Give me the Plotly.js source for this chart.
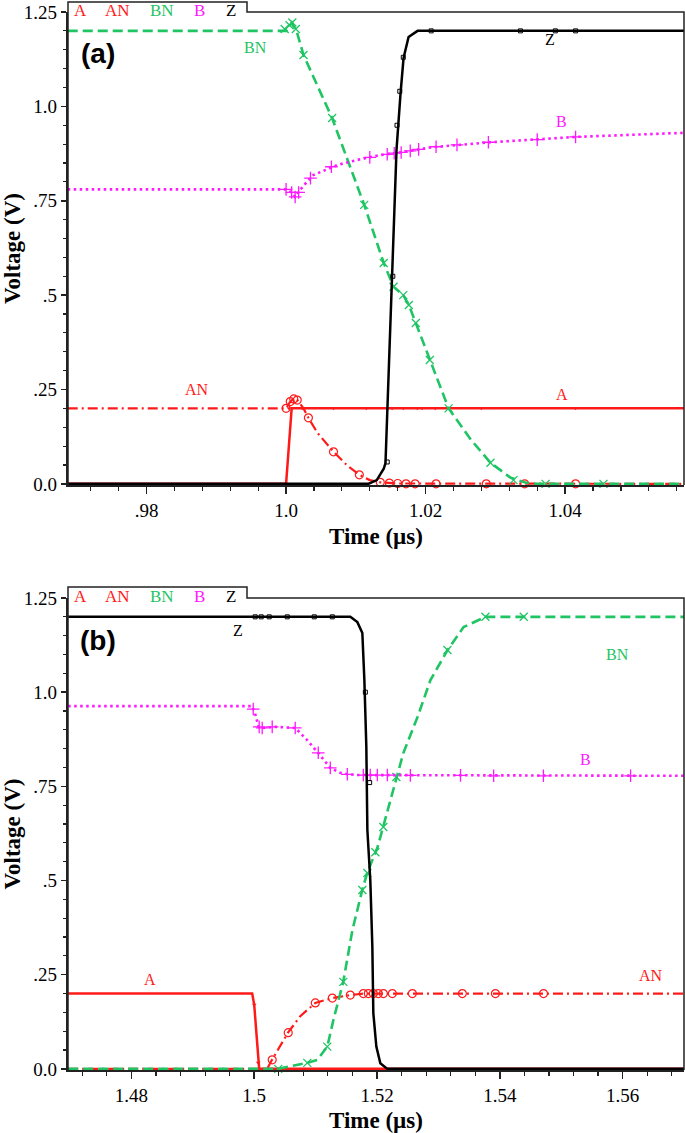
<!DOCTYPE html>
<html>
<head>
<meta charset="utf-8">
<script src="https://cdn.plot.ly/plotly-3.0.1.min.js"></script>
<style>html,body{margin:0;padding:0;background:#fff}</style>
</head>
<body>
<div id="chart" style="width:685px;height:1133px"></div>
<script>
// ---------- Panel (a) data ----------
const A_a_x = [0.9687, 1.0, 1.0008, 1.0571];
const A_a_y = [0, 0, 0.2, 0.2];
const A_a_mx = [1.0004, 1.0023, 1.0068, 1.0115, 1.0152, 1.0168, 1.0188, 1.0195, 1.0214, 1.028, 1.0415];
const A_a_my = [0.2, 0.2, 0.2, 0.2, 0.2, 0.2, 0.2, 0.2, 0.2, 0.2, 0.2];

const AN_a_x = [0.9687, 1.0, 1.0005, 1.001, 1.0016, 1.0025, 1.0032, 1.0045, 1.0068, 1.0088, 1.0105, 1.012, 1.0135, 1.016, 1.0571];
const AN_a_y = [0.2, 0.2, 0.215, 0.225, 0.222, 0.2, 0.175, 0.135, 0.085, 0.048, 0.024, 0.01, 0.004, 0.001, 0];
const AN_a_mx = [1.0, 1.0006, 1.0011, 1.0016, 1.0032, 1.0068, 1.0105, 1.0135, 1.0148, 1.016, 1.0172, 1.0185, 1.0215, 1.0287, 1.0342, 1.0415];
const AN_a_my = [0.2, 0.218, 0.225, 0.222, 0.175, 0.085, 0.024, 0.004, 0.002, 0.001, 0, 0, 0, 0, 0, 0];

const BN_a_x = [0.9687, 1.0, 1.0008, 1.0015, 1.0025, 1.0066, 1.0112, 1.014, 1.0154, 1.0168, 1.0176, 1.0186, 1.0206, 1.0233, 1.0265, 1.0293, 1.0322, 1.0344, 1.036, 1.0571];
const BN_a_y = [1.2, 1.2, 1.222, 1.2, 1.136, 0.969, 0.739, 0.585, 0.522, 0.5, 0.474, 0.426, 0.328, 0.2, 0.117, 0.056, 0.016, 0.003, 0, 0];
const BN_a_mx = [0.9998, 1.0005, 1.0009, 1.0014, 1.0025, 1.0066, 1.0112, 1.014, 1.0154, 1.0168, 1.0176, 1.0186, 1.0206, 1.0233, 1.0293, 1.0326, 1.0372, 1.0455];
const BN_a_my = [1.205, 1.215, 1.222, 1.205, 1.136, 0.969, 0.739, 0.585, 0.522, 0.5, 0.474, 0.426, 0.328, 0.2, 0.056, 0.01, 0, 0];

const B_a_x = [0.9687, 1.0, 1.0008, 1.0013, 1.0025, 1.0039, 1.0074, 1.0102, 1.0135, 1.0168, 1.021, 1.0293, 1.0414, 1.0571];
const B_a_y = [0.78, 0.78, 0.772, 0.76, 0.79, 0.818, 0.845, 0.858, 0.871, 0.879, 0.892, 0.905, 0.919, 0.93];
const B_a_mx = [1.0, 1.0008, 1.0013, 1.0018, 1.0035, 1.0065, 1.012, 1.0145, 1.0155, 1.0165, 1.0178, 1.019, 1.0215, 1.0245, 1.029, 1.036, 1.0415];
const B_a_my = [0.78, 0.772, 0.76, 0.772, 0.81, 0.84, 0.865, 0.873, 0.876, 0.878, 0.882, 0.886, 0.893, 0.898, 0.905, 0.912, 0.919];

const Z_a_x = [0.9687, 1.0118, 1.013, 1.014, 1.01425, 1.01454, 1.01526, 1.01583, 1.01641, 1.01684, 1.01756, 1.01885, 1.0571];
const Z_a_y = [0, 0, 0.01, 0.04, 0.055, 0.2, 0.548, 0.885, 1.035, 1.128, 1.184, 1.2, 1.2];
const Z_a_mx = [1.0145, 1.0153, 1.0159, 1.0163, 1.0168, 1.0208, 1.0336, 1.0386, 1.0415];
const Z_a_my = [0.058, 0.55, 0.95, 1.04, 1.13, 1.2, 1.2, 1.2, 1.2];

// ---------- Panel (b) data ----------
const A_b_x = [1.4697, 1.49967, 1.5, 1.50065, 1.50081, 1.57];
const A_b_y = [0.2, 0.2, 0.17, 0.016, 0, 0];
const A_b_mx = [1.5, 1.50065];
const A_b_my = [0.17, 0.016];

const AN_b_x = [1.4697, 1.5021, 1.5029, 1.5055, 1.5075, 1.50995, 1.51272, 1.51565, 1.518, 1.57];
const AN_b_y = [0, 0, 0.024, 0.096, 0.14, 0.175, 0.188, 0.196, 0.2, 0.2];
const AN_b_mx = [1.50293, 1.50554, 1.50995, 1.51272, 1.51565, 1.51777, 1.51858, 1.5194, 1.52021, 1.52103, 1.5225, 1.52576, 1.5339, 1.53929, 1.54712];
const AN_b_my = [0.024, 0.096, 0.175, 0.188, 0.196, 0.2, 0.2, 0.2, 0.2, 0.2, 0.2, 0.2, 0.2, 0.2, 0.2];

const BN_b_x = [1.4697, 1.5039, 1.5086, 1.5103, 1.5119, 1.5129, 1.5145, 1.516, 1.5176, 1.5184, 1.5201, 1.521, 1.523, 1.5243, 1.5266, 1.5287, 1.5315, 1.5341, 1.5377, 1.57];
const BN_b_y = [0, 0, 0.016, 0.024, 0.059, 0.13, 0.231, 0.369, 0.475, 0.52, 0.589, 0.642, 0.767, 0.839, 0.934, 1.032, 1.112, 1.173, 1.2, 1.2];
const BN_b_mx = [1.50391, 1.50864, 1.5119, 1.51451, 1.51761, 1.51843, 1.51973, 1.52103, 1.52315, 1.53147, 1.53766, 1.5439];
const BN_b_my = [0, 0.016, 0.059, 0.231, 0.475, 0.52, 0.575, 0.642, 0.775, 1.112, 1.2, 1.2];

const B_b_x = [1.4697, 1.49967, 1.5002, 1.5007, 1.5013, 1.5034, 1.5067, 1.5085, 1.5104, 1.5124, 1.514, 1.5153, 1.517, 1.57];
const B_b_y = [0.963, 0.963, 0.94, 0.908, 0.905, 0.908, 0.905, 0.875, 0.839, 0.799, 0.786, 0.782, 0.78, 0.778];
const B_b_mx = [1.49984, 1.50081, 1.5013, 1.50293, 1.50668, 1.51043, 1.51239, 1.51516, 1.51777, 1.5189, 1.52005, 1.52168, 1.52543, 1.5336, 1.539, 1.5471, 1.5613];
const B_b_my = [0.955, 0.908, 0.905, 0.908, 0.905, 0.839, 0.799, 0.782, 0.78, 0.78, 0.78, 0.78, 0.779, 0.779, 0.778, 0.778, 0.778];

const Z_b_x = [1.4697, 1.51565, 1.5168, 1.51761, 1.51794, 1.51826, 1.51843, 1.51891, 1.51924, 1.5194, 1.51989, 1.52054, 1.52168, 1.57];
const Z_b_y = [1.2, 1.2, 1.186, 1.157, 1.032, 0.855, 0.634, 0.5, 0.324, 0.148, 0.059, 0.015, 0, 0];
const Z_b_mx = [1.50016, 1.50114, 1.50244, 1.50538, 1.50978, 1.51272, 1.5181, 1.5188];
const Z_b_my = [1.2, 1.2, 1.2, 1.2, 1.2, 1.2, 1.0, 0.76];

// ---------- axes / labels ----------
const xTicksA = [0.98, 1.0, 1.02, 1.04];
const xTextA = ['.98', '1.0', '1.02', '1.04'];
const xTicksB = [1.48, 1.5, 1.52, 1.54, 1.56];
const xTextB = ['1.48', '1.5', '1.52', '1.54', '1.56'];
const yTicks = [0, 0.25, 0.5, 0.75, 1.0, 1.25];
const yText = ['0.0', '.25', '.5', '.75', '1.0', '1.25'];
const seriesNames = ['A', 'AN', 'BN', 'B', 'Z'];

const RED = '#ff1a1a', GREEN = '#1fc463', MAG = '#ff19ff', BLK = '#000000';
const colors = {A: RED, AN: RED, BN: GREEN, B: MAG, Z: BLK};

const W = 685, H = 1133;
const px = v => v / W;
const py = v => 1 - v / H;

function lineTrace(x, y, name, xa, ya, line) {
  return {x, y, name, type: 'scatter', mode: 'lines', xaxis: xa, yaxis: ya, line, showlegend: false, hoverinfo: 'skip'};
}
function markTrace(x, y, name, xa, ya, marker) {
  return {x, y, name: name + ' markers', type: 'scatter', mode: 'markers', xaxis: xa, yaxis: ya, marker, showlegend: false, cliponaxis: false, hoverinfo: 'skip'};
}

const lA = {color: RED, width: 2.5};
const lAN = {color: RED, width: 2.2, dash: '10px,4px,2px,4px'};
const lBN = {color: GREEN, width: 2.6, dash: '10px,5px'};
const lB = {color: MAG, width: 2.6, dash: '2.5px,3.5px'};
const lZ = {color: BLK, width: 2.5};
const mA = {symbol: 'triangle-down', size: 4, color: RED};
const mAN = {symbol: 'circle-open', size: 8, color: RED, line: {width: 1.2, color: RED}};
const mBN = {symbol: 'x-thin-open', size: 8, color: GREEN, line: {width: 1.3, color: GREEN}};
const mB = {symbol: 'cross-thin-open', size: 9, color: MAG, line: {width: 1.3, color: MAG}};
const mZ = {symbol: 'square-open', size: 4, color: BLK, line: {width: 1, color: BLK}};

const data = [
  lineTrace(A_a_x, A_a_y, 'A', 'x', 'y', lA), markTrace(A_a_mx, A_a_my, 'A', 'x', 'y', mA),
  lineTrace(AN_a_x, AN_a_y, 'AN', 'x', 'y', lAN), markTrace(AN_a_mx, AN_a_my, 'AN', 'x', 'y', mAN),
  lineTrace(BN_a_x, BN_a_y, 'BN', 'x', 'y', lBN), markTrace(BN_a_mx, BN_a_my, 'BN', 'x', 'y', mBN),
  lineTrace(B_a_x, B_a_y, 'B', 'x', 'y', lB), markTrace(B_a_mx, B_a_my, 'B', 'x', 'y', mB),
  lineTrace(Z_a_x, Z_a_y, 'Z', 'x', 'y', lZ), markTrace(Z_a_mx, Z_a_my, 'Z', 'x', 'y', mZ),

  lineTrace(A_b_x, A_b_y, 'A', 'x2', 'y2', lA), markTrace(A_b_mx, A_b_my, 'A', 'x2', 'y2', mA),
  lineTrace(AN_b_x, AN_b_y, 'AN', 'x2', 'y2', lAN), markTrace(AN_b_mx, AN_b_my, 'AN', 'x2', 'y2', mAN),
  lineTrace(BN_b_x, BN_b_y, 'BN', 'x2', 'y2', lBN), markTrace(BN_b_mx, BN_b_my, 'BN', 'x2', 'y2', mBN),
  lineTrace(B_b_x, B_b_y, 'B', 'x2', 'y2', lB), markTrace(B_b_mx, B_b_my, 'B', 'x2', 'y2', mB),
  lineTrace(Z_b_x, Z_b_y, 'Z', 'x2', 'y2', lZ), markTrace(Z_b_mx, Z_b_my, 'Z', 'x2', 'y2', mZ)
];

const tickFont = {family: 'Liberation Serif, Times New Roman, serif', size: 19, color: '#000'};
const titleFont = {family: 'Liberation Serif, Times New Roman, serif', size: 23, color: '#000', weight: 'bold'};

function xAxis(range, tv, tt, dom, anchor) {
  return {
    domain: dom, range, anchor, tickmode: 'array', tickvals: tv, ticktext: tt,
    ticks: 'outside', ticklen: 7, tickwidth: 1.5, tickcolor: '#222',
    minor: {tickmode: 'linear', tick0: tv[0], dtick: 0.004, ticks: 'outside', ticklen: 4, tickwidth: 1.2, tickcolor: '#222', showgrid: false},
    showline: true, linewidth: 2.2, linecolor: '#222', showgrid: false, zeroline: false,
    tickfont: tickFont, title: {text: 'Time (\u00b5s)', font: titleFont, standoff: 8}, automargin: false
  };
}
function yAxis(dom, anchor) {
  return {
    domain: dom, range: [-0.003, 1.25], anchor, tickmode: 'array', tickvals: yTicks, ticktext: yText,
    ticks: 'outside', ticklen: 5, tickwidth: 1.5, tickcolor: '#222',
    minor: {tickmode: 'linear', tick0: 0, dtick: 0.05, ticks: 'outside', ticklen: 3, tickwidth: 1.2, tickcolor: '#222', showgrid: false},
    showline: true, linewidth: 2.2, linecolor: '#222', showgrid: false, zeroline: false,
    tickfont: tickFont, title: {text: 'Voltage (V)', font: titleFont, standoff: 6}, automargin: false
  };
}

// pixel geometry of the two frames
const L = 68, R = 684;
const panels = [
  {top: 12, bot: 485, tab: 2, tag: '(a)', xa: 'x', ya: 'y'},
  {top: 598, bot: 1070, tab: 587, tag: '(b)', xa: 'x2', ya: 'y2'}
];

const shapes = [];
const annotations = [];
const legX = [80, 117, 162, 199, 231];
panels.forEach(p => {
  const lc = {color: '#222', width: 1.5};
  // legend tab + top/right frame
  shapes.push({type: 'path', xref: 'paper', yref: 'paper', line: lc,
    path: `M ${px(L)} ${py(p.bot)} L ${px(L)} ${py(p.tab)} L ${px(247)} ${py(p.tab)} L ${px(247)} ${py(p.top)} L ${px(R)} ${py(p.top)} L ${px(R)} ${py(p.bot)}`});
  seriesNames.forEach((n, i) => {
    annotations.push({xref: 'paper', yref: 'paper', x: px(legX[i]), y: py(p.tab + 9), text: n, showarrow: false,
      xanchor: 'center', yanchor: 'middle', font: {family: 'Liberation Serif, serif', size: 17, color: colors[n]}});
  });
  annotations.push({xref: 'paper', yref: 'paper', x: px(98), y: py(p.top + 42), text: p.tag, showarrow: false,
    xanchor: 'center', yanchor: 'middle', font: {family: 'Liberation Sans, Arial, sans-serif', size: 28, color: '#000', weight: 'bold'}});
});

// in-plot series labels (data coordinates)
const lblA = [['BN', 0.9956, 1.155], ['Z', 1.0379, 1.176], ['B', 1.0395, 0.959], ['AN', 0.9873, 0.249], ['A', 1.0395, 0.236]];
const lblB = [['Z', 1.4974, 1.165], ['BN', 1.5592, 1.099], ['B', 1.5540, 0.82], ['A', 1.4830, 0.236], ['AN', 1.5646, 0.249]];
lblA.forEach(([t, x, y]) => annotations.push({xref: 'x', yref: 'y', x, y, text: t, showarrow: false,
  font: {family: 'Liberation Serif, serif', size: 16, color: colors[t]}}));
lblB.forEach(([t, x, y]) => annotations.push({xref: 'x2', yref: 'y2', x, y, text: t, showarrow: false,
  font: {family: 'Liberation Serif, serif', size: 16, color: colors[t]}}));

const domX = [px(L), px(R)];
const layout = {
  width: W, height: H,
  margin: {l: 0, r: 0, t: 0, b: 0},
  paper_bgcolor: '#fff', plot_bgcolor: '#fff',
  showlegend: false,
  xaxis: xAxis([0.96874, 1.05704], xTicksA, xTextA, domX, 'y'),
  yaxis: yAxis([py(panels[0].bot), py(panels[0].top)], 'x'),
  xaxis2: xAxis([1.46967, 1.5700], xTicksB, xTextB, domX, 'y2'),
  yaxis2: yAxis([py(panels[1].bot), py(panels[1].top)], 'x2'),
  shapes, annotations
};

Plotly.newPlot('chart', data, layout, {staticPlot: true, displayModeBar: false});
</script>
</body>
</html>
